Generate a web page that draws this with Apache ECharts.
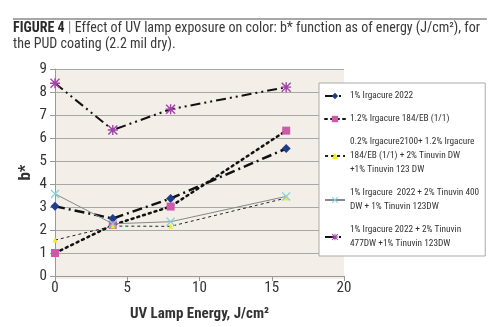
<!DOCTYPE html>
<html><head><meta charset="utf-8">
<script src="https://cdn.jsdelivr.net/npm/echarts@6/dist/echarts.min.js"></script>
<style>html,body{margin:0;padding:0;background:#fff}#c{width:500px;height:327px}</style>
</head><body><div id="c"></div>
<script>
const energy = [0, 4, 8, 16];
const seriesNames = [
  "1% Irgacure 2022",
  "1.2% Irgacure 184/EB (1/1)",
  "0.2% Irgacure2100+ 1.2% Irgacure 184/EB (1/1) + 2% Tinuvin DW +1% Tinuvin 123 DW",
  "1% Irgacure  2022 + 2% Tinuvin 400 DW + 1% Tinuvin 123DW",
  "1% Irgacure 2022 + 2% Tinuvin 477DW +1% Tinuvin 123DW"
];
const legendLabels = [
  "1% Irgacure 2022",
  "1.2% Irgacure 184/EB (1/1)",
  "0.2% Irgacure2100+ 1.2% Irgacure\n184/EB (1/1) + 2% Tinuvin DW\n+1% Tinuvin 123 DW",
  "1% Irgacure  2022 + 2% Tinuvin 400\nDW + 1% Tinuvin 123DW",
  "1% Irgacure 2022 + 2% Tinuvin\n477DW +1% Tinuvin 123DW"
];
const irg2022 = [3.03, 2.5, 3.37, 5.54];
const irg184 = [1.0, 2.22, 3.02, 6.32];
const irg2100 = [1.56, 2.17, 2.16, 3.39];
const tin400 = [3.57, 2.27, 2.36, 3.46];
const tin477 = [8.38, 6.35, 7.25, 8.21];

const starPath = 'path://M0,1 L1,0 L5,4 L9,0 L10,1 L6,5 L10,9 L9,10 L5,6 L1,10 L0,9 L4,5 Z M4.3,0 L5.7,0 L5.7,10 L4.3,10 Z M0,4.3 L10,4.3 L10,5.7 L0,5.7 Z';
const xPath = 'path://M0,1 L1,0 L5,4 L9,0 L10,1 L6,5 L10,9 L9,10 L5,6 L1,10 L0,9 L4,5 Z';

function pts(arr){ return energy.map((e,i)=>[e, arr[i]]); }

const chart = echarts.init(document.getElementById('c'), null, {renderer:'canvas'});
const font = '"Roboto Condensed", Lato, sans-serif';
chart.setOption({
  animation: false,
  textStyle: {fontFamily: font},
  graphic: [
    {type:'line', shape:{x1:13,y1:19,x2:487,y2:19}, style:{stroke:'#8a8a8a', lineWidth:1.5}},
    {type:'rect', shape:{x:55,y:69,width:289,height:210}, style:{fill:'#f3efe8'}, z:-1}
  ],
  title: {
    left: 13, top: 20, padding: 0,
    text: '{b|FIGURE 4} {s||} Effect of UV lamp exposure on color: b* function as of energy (J/cm²), for\nthe PUD coating (2.2 mil dry).',
    textStyle: {
      fontFamily: font, fontSize: 14, fontWeight: 'normal', color: '#3a3a3a', lineHeight: 16,
      rich: {
        b: {fontFamily: font, fontSize: 14, fontWeight: 'bold', color:'#2a2a2a', lineHeight:16},
        s: {fontFamily: font, fontSize: 15, color:'#888', lineHeight:16}
      }
    }
  },
  grid: {left:55, right:156, top:69, bottom:48, containLabel:false},
  xAxis: {
    type:'value', min:0, max:20, interval:5,
    name:'UV Lamp Energy, J/cm²', nameLocation:'middle', nameGap:31, nameMoveOverlap:false,
    nameTextStyle:{fontFamily:font, fontSize:15, fontWeight:'bold', color:'#333'},
    axisLine:{show:true, onZero:false, lineStyle:{color:'#999'}},
    axisTick:{show:true, length:5, lineStyle:{color:'#999'}},
    axisLabel:{fontSize:15, color:'#333', margin:5, fontFamily:font},
    splitLine:{show:false}
  },
  yAxis: {
    type:'value', min:0, max:9, interval:1,
    name:'b*', nameLocation:'middle', nameGap:21, nameMoveOverlap:false,
    nameTextStyle:{fontFamily:font, fontSize:17, fontWeight:'bold', color:'#333'},
    axisLine:{show:true, lineStyle:{color:'#999'}},
    axisTick:{show:true, length:5, lineStyle:{color:'#999'}},
    axisLabel:{fontSize:15, color:'#333', margin:8, fontFamily:font},
    splitLine:{show:true, lineStyle:{color:'#a8a8a8', width:1}}
  },
  legend: {
    orient:'vertical', left:319, top:83,
    backgroundColor:'#fff', borderColor:'#aaa', borderWidth:1,
    padding:[6,6,5,5], itemGap:9, itemWidth:20, itemHeight:8,
    data: seriesNames,
    formatter: function(n){ return legendLabels[seriesNames.indexOf(n)]; },
    textStyle:{fontFamily:font, fontSize:9.3, color:'#333', lineHeight:14},
    z: 10
  },
  series: [
    {name:seriesNames[0], type:'line', data:pts(irg2022), symbol:'diamond', symbolSize:9,
     itemStyle:{color:'#1f3d8c'}, lineStyle:{color:'#111', width:2.5, type:[10,4,2,4]}},
    {name:seriesNames[1], type:'line', data:pts(irg184), symbol:'rect', symbolSize:8,
     itemStyle:{color:'#cc5aa8'}, lineStyle:{color:'#111', width:2.5, type:[2,4], cap:'round'}},
    {name:seriesNames[2], type:'line', data:pts(irg2100), symbol:'triangle', symbolSize:5,
     itemStyle:{color:'#f5ea1a'}, lineStyle:{color:'#222', width:1, type:[3,3]}},
    {name:seriesNames[3], type:'line', data:pts(tin400), symbol:xPath, symbolSize:9,
     itemStyle:{color:'#7fd3dc'}, lineStyle:{color:'#888', width:1, type:'solid'}},
    {name:seriesNames[4], type:'line', data:pts(tin477), symbol:starPath, symbolSize:10,
     itemStyle:{color:'#a044a8'}, lineStyle:{color:'#111', width:2, type:[10,4,2,4,2,4]}}
  ]
});
</script></body></html>
